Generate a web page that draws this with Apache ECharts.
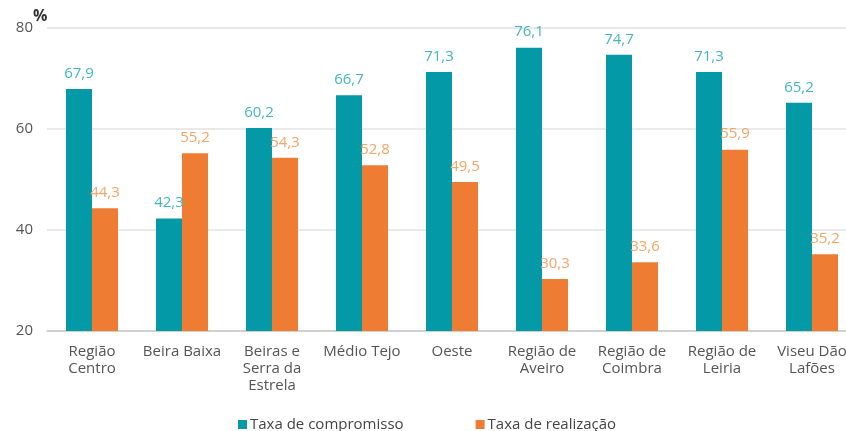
<!DOCTYPE html>
<html>
<head>
<meta charset="utf-8">
<script src="https://cdn.jsdelivr.net/npm/echarts@6/dist/echarts.min.js"></script>
<style>
  html, body { margin: 0; padding: 0; background: #fff; }
  #chart { width: 846px; height: 431px; }
</style>
</head>
<body>
<div id="chart"></div>
<script>
// Regiões NUTS III do Centro
const categories = [
  'Região\nCentro', 'Beira Baixa', 'Beiras e\nSerra da\nEstrela', 'Médio Tejo', 'Oeste',
  'Região de\nAveiro', 'Região de\nCoimbra', 'Região de\nLeiria', 'Viseu Dão\nLafões'
];
const taxaCompromisso = [67.9, 42.3, 60.2, 66.7, 71.3, 76.1, 74.7, 71.3, 65.2];
const taxaRealizacao = [44.3, 55.2, 54.3, 52.8, 49.5, 30.3, 33.6, 55.9, 35.2];
const yTicks = [20, 40, 60, 80];

const fontFamily = '"Open Sans", "Noto Sans", sans-serif';
const fmt = v => v.toFixed(1).replace('.', ',');

const chart = echarts.init(document.getElementById('chart'), null, { renderer: 'canvas' });
chart.setOption({
  animation: false,
  textStyle: { fontFamily },
  grid: {
    left: 47, top: 28, width: 810, bottom: 100,
    containLabel: false, outerBoundsMode: 'none'
  },
  graphic: [{
    type: 'text', left: 33, top: 8,
    style: { text: '%', fontSize: 16, fontWeight: 'bold', fill: '#333', fontFamily }
  }],
  legend: {
    bottom: -6, left: 233,
    itemWidth: 9, itemHeight: 9, itemGap: 72,
    icon: 'rect',
    textStyle: { fontSize: 15, color: '#444', fontFamily, padding: [0, 0, 0, -2] },
    data: ['Taxa de compromisso', 'Taxa de realização']
  },
  xAxis: {
    type: 'category',
    data: categories,
    axisLine: { lineStyle: { color: '#c8c8c8', width: 1.5 } },
    axisTick: { show: false },
    axisLabel: { color: '#555', fontSize: 15, lineHeight: 17, margin: 12, interval: 0 }
  },
  yAxis: {
    type: 'value',
    min: yTicks[0], max: yTicks[yTicks.length - 1], interval: 20,
    axisLine: { show: false },
    axisTick: { show: false },
    axisLabel: { color: '#555', fontSize: 15, margin: 14 },
    splitLine: { lineStyle: { color: '#e2e2e2', width: 1.5 } }
  },
  series: [
    {
      name: 'Taxa de compromisso',
      type: 'bar',
      data: taxaCompromisso,
      barWidth: 26,
      barGap: '0%',
      itemStyle: { color: '#0399a6' },
      label: {
        show: true, position: 'top', distance: 8,
        color: '#45b6c1', fontSize: 15,
        formatter: p => fmt(p.value)
      }
    },
    {
      name: 'Taxa de realização',
      type: 'bar',
      data: taxaRealizacao,
      barWidth: 26,
      barGap: '0%',
      itemStyle: { color: '#ee7d33' },
      label: {
        show: true, position: 'top', distance: 8,
        color: '#f5a565', fontSize: 15,
        formatter: p => fmt(p.value)
      }
    }
  ]
});
</script>
</body>
</html>
